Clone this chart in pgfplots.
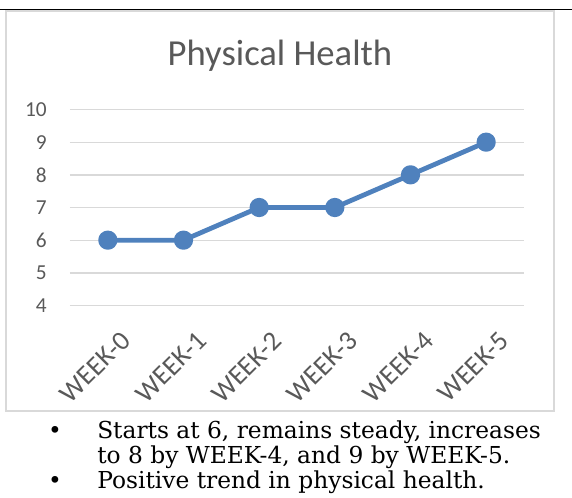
\documentclass[border=0pt]{standalone}
\usepackage{fontspec}
\setmainfont{DejaVu Serif}
\newfontfamily\chartfont{Carlito}
\usepackage{pgfplots}
\pgfplotsset{compat=1.18}

\definecolor{axgray}{HTML}{595959}
\definecolor{gridgray}{HTML}{D9D9D9}
\definecolor{lineblue}{HTML}{4F81BD}

\begin{document}
\begin{tikzpicture}[x=0.75pt,y=0.75pt]
\useasboundingbox (0,0) rectangle (572,497);
\clip (0,0) rectangle (572,497);
% page rule and chart frame
\draw[line width=1.1pt] (0,487.5) -- (572,487.5);
\draw[gridgray, line width=0.8pt] (6,86) rectangle (554,486);
\node[anchor=base, text=axgray, inner sep=0,
      font=\chartfont\fontsize{27.5}{31}\selectfont] at (280,431.3) {Physical Health};

\coordinate (plotSW) at (70,191.5);
\begin{axis}[
    at={(plotSW)}, anchor=south west,
    scale only axis,
    width=340.5pt, height=147pt,
    xmin=-0.5, xmax=5.5,
    ymin=4, ymax=10,
    xtick={0,1,2,3,4,5},
    xticklabels={WEEK-0,WEEK-1,WEEK-2,WEEK-3,WEEK-4,WEEK-5},
    ytick={4,5,6,7,8,9,10},
    axis line style={draw=none},
    major tick length=0pt,
    ymajorgrids,
    major grid style={gridgray, line width=1pt},
    /pgf/number format/assume math mode=true,
    tick label style={font=\chartfont\fontsize{16}{19}\selectfont, text=axgray},
    yticklabel style={anchor=east, inner sep=0, xshift=-17.25pt},
    xticklabel style={rotate=45, anchor=east, inner sep=0, yshift=-26pt, xshift=-6.5pt,
                      font=\chartfont\fontsize{20.5}{24}\selectfont},
    clip=false,
  ]
  \addplot[lineblue, line width=3.6pt, line join=round,
           mark=*, mark size=5.4pt,
           mark options={fill=lineblue, draw=none}]
    coordinates {(0,6) (1,6) (2,7) (3,7) (4,8) (5,9)};
\end{axis}

% bullet notes below the chart
\begin{scope}[every node/.style={inner sep=0, font=\fontsize{17.5}{20}\selectfont}]
  \node[anchor=base] at (55,58.7) {•};
  \node[anchor=base west] at (97,58.7) {Starts at 6, remains steady, increases};
  \node[anchor=base west] at (97,33.7) {to 8 by WEEK-4, and 9 by WEEK-5.};
  \node[anchor=base] at (55,8.7) {•};
  \node[anchor=base west] at (97,8.7) {Positive trend in physical health.};
\end{scope}
\end{tikzpicture}
\end{document}
